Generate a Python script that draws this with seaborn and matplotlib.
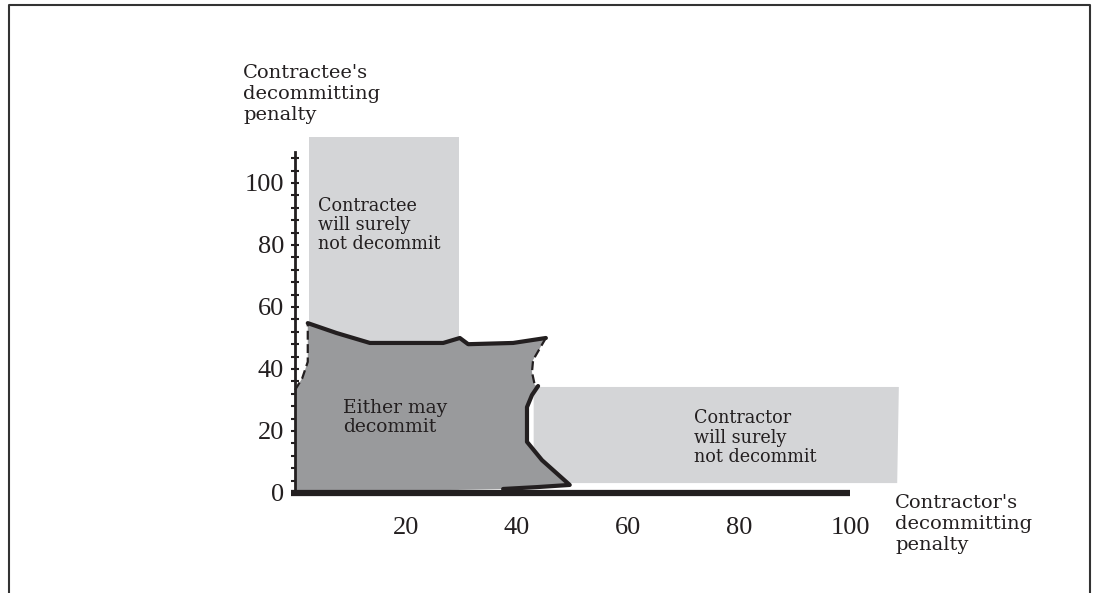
import numpy as np
import pandas as pd
import seaborn as sns
import matplotlib.pyplot as plt
from matplotlib.lines import Line2D

# outline of the "either may decommit" region, traced from the origin
either_x = [0, 0, 1.3, 2.3, 2.3, 7.5, 13.5, 26.7, 29.7, 31.2, 39.3, 45.2,
            42.9, 42.7, 43.2, 43.8, 42.7, 41.8, 41.8, 44.5, 49.5, 43.6, 37.5, 0]
either_y = [0, 33.2, 37, 42.3, 54.8, 51.6, 48.4, 48.4, 50, 48, 48.4, 50,
            42.9, 39, 34.8, 34.5, 31.6, 27.7, 16.5, 10.6, 2.6, 1.9, 1.3, 0]

# which parts of the outline are drawn solid / dashed (index ranges)
solid_parts = [(4, 11), (15, 22)]
dashed_parts = [(1, 4), (11, 15)]

# "contractee will surely not decommit" band
contractee_x = [2.6, 29.6, 29.6, 2.6]
contractee_y = [0, 0, 114.8, 114.8]

# "contractor will surely not decommit" band
contractor_x = [43.0, 108.5, 108.8, 43.0]
contractor_y = [3.2, 3.2, 34.2, 34.2]

x_ticks = [20, 40, 60, 80, 100]
y_ticks = [0, 20, 40, 60, 80, 100]

light_grey = "#d4d5d7"
dark_grey = "#999a9c"
ink = "#231f20"

sns.set_theme(style="white")
plt.rcParams["font.family"] = ["Liberation Serif", "DejaVu Serif"]

fig = plt.figure(figsize=(10.94, 5.93), dpi=100)
ax = fig.add_axes([0, 0, 1, 1])
ax.set_xlim(-53.15, 143.96)
ax.set_ylim(-32.26, 159.03)
ax.patch.set_alpha(0)

# shaded regions
ax.fill(contractee_x, contractee_y, color=light_grey, lw=0, zorder=1)
ax.fill(contractor_x, contractor_y, color=light_grey, lw=0, zorder=1)
ax.fill(either_x, either_y, color=dark_grey, lw=0, zorder=1.5)

outline = pd.DataFrame({"x": either_x, "y": either_y})
for a, b in solid_parts:
    seg = outline.iloc[a:b + 1]
    sns.lineplot(data=seg, x="x", y="y", sort=False, estimator=None,
                 color=ink, lw=3.0, solid_joinstyle="round", ax=ax, zorder=2)
for a, b in dashed_parts:
    seg = outline.iloc[a:b + 1]
    sns.lineplot(data=seg, x="x", y="y", sort=False, estimator=None,
                 color=ink, lw=1.6, linestyle=(0, (4, 2)), ax=ax, zorder=2)

# axes drawn through the origin
for side in ["top", "right"]:
    ax.spines[side].set_visible(False)
ax.spines["left"].set_position(("data", 0))
ax.spines["left"].set_bounds(0, 110)
ax.spines["left"].set_linewidth(2)
ax.spines["left"].set_color(ink)
ax.spines["bottom"].set_position(("data", 0))
ax.spines["bottom"].set_bounds(-0.7, 100)
ax.spines["bottom"].set_linewidth(4.5)
ax.spines["bottom"].set_color(ink)
ax.spines["bottom"].set_capstyle("butt")
for s in ax.spines.values():
    s.set_zorder(3)

ax.set_xticks(x_ticks)
ax.set_yticks(y_ticks)
ax.set_yticks(np.arange(0, 109, 4), minor=True)
ax.tick_params(axis="x", bottom=False, length=0, pad=17, labelsize=19,
               labelcolor=ink)
ax.tick_params(axis="y", which="both", left=True, direction="inout", length=6,
               width=1.5, color=ink, pad=5, labelsize=19, labelcolor=ink)
ax.set_xlabel("")
ax.set_ylabel("")

word_font = ["DejaVu Serif"]
ax.text(-9.37, 138.4, "Contractee's\ndecommitting\npenalty", ha="left", va="top",
        fontsize=14, linespacing=1.2, color=ink, family=word_font)
ax.text(108.1, -0.3, "Contractor's\ndecommitting\npenalty", ha="left", va="top",
        fontsize=14, linespacing=1.2, color=ink, family=word_font)
ax.text(4.14, 95.6, "Contractee\nwill surely\nnot decommit", ha="left", va="top",
        fontsize=12.7, linespacing=1.1, color=ink, family=word_font)
ax.text(8.65, 30.3, "Either may\ndecommit", ha="left", va="top",
        fontsize=13.5, linespacing=1.06, color=ink, family=word_font)
ax.text(71.9, 27.0, "Contractor\nwill surely\nnot decommit", ha="left", va="top",
        fontsize=12.7, linespacing=1.1, color=ink, family=word_font)

# page frame (open at the bottom)
fx0, fx1, fy = 9 / 1094, 1090 / 1094, 1 - 5 / 593
fig.add_artist(Line2D([fx0, fx0, fx1, fx1], [0, fy, fy, 0],
                      transform=fig.transFigure, color="#333333", lw=1.5))

fig.savefig("out.png", dpi=100)
